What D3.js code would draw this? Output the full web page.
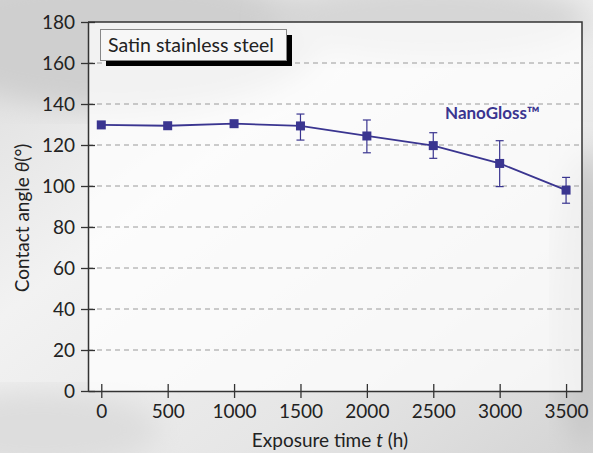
<!DOCTYPE html>
<html>
<head>
<meta charset="utf-8">
<script src="https://cdn.jsdelivr.net/npm/d3@7"></script>
<style>
  body { margin: 0; }
  svg text { font-family: Lato, "Open Sans", sans-serif; fill: #222; }
</style>
</head>
<body>
<div class="main"></div>
<script>
// data
var hours = [0, 500, 1000, 1500, 2000, 2500, 3000, 3500];
var angle = [129.8, 129.4, 130.4, 129.3, 124.4, 119.7, 111.0, 98.0];
var errLow = [129.8, 129.4, 130.4, 122.4, 116.2, 113.5, 99.7, 91.6];
var errHigh = [129.8, 129.4, 130.4, 135.1, 132.2, 126.0, 122.1, 104.2];
var xTicks = [0, 500, 1000, 1500, 2000, 2500, 3000, 3500];
var yTicks = [0, 20, 40, 60, 80, 100, 120, 140, 160, 180];
var seriesName = "NanoGloss\u2122";
var boxLabel = "Satin stainless steel";

//Canvas config
var W = 593, H = 453;
var margin = {top: 22, right: 11, bottom: 62, left: 88};
var width = W - margin.left - margin.right;
var height = H - margin.top - margin.bottom;
var navy = "#3a3590";

var svg = d3.select(".main").append("svg")
  .attr("width", W)
  .attr("height", H);

// background, a rough stand-in for the photo behind the chart
var defs = svg.append("defs");
var bg = defs.append("linearGradient").attr("id", "bg")
  .attr("x1", 0).attr("y1", 0).attr("x2", 1).attr("y2", 1);
bg.append("stop").attr("offset", "0%").attr("stop-color", "#dcdcdc");
bg.append("stop").attr("offset", "35%").attr("stop-color", "#f2f2f2");
bg.append("stop").attr("offset", "70%").attr("stop-color", "#e6e6e6");
bg.append("stop").attr("offset", "100%").attr("stop-color", "#d4d4d4");
var blur = defs.append("filter").attr("id", "soft");
blur.append("feGaussianBlur").attr("stdDeviation", 14);

svg.append("rect").attr("width", W).attr("height", H).attr("fill", "url(#bg)");
svg.append("ellipse").attr("cx", 120).attr("cy", 40).attr("rx", 200).attr("ry", 70)
  .attr("fill", "#cfcfcf").attr("filter", "url(#soft)");
svg.append("ellipse").attr("cx", 430).attr("cy", 20).attr("rx", 160).attr("ry", 40)
  .attr("fill", "#d6d6d6").attr("filter", "url(#soft)");
svg.append("ellipse").attr("cx", 585).attr("cy", 300).attr("rx", 30).attr("ry", 150)
  .attr("fill", "#c8c8c8").attr("filter", "url(#soft)");
svg.append("ellipse").attr("cx", 40).attr("cy", 430).attr("rx", 120).attr("ry", 40)
  .attr("fill", "#dddddd").attr("filter", "url(#soft)");

var g = svg.append("g")
  .attr("transform", "translate(" + margin.left + "," + margin.top + ")");

g.append("rect").attr("width", width).attr("height", height)
  .attr("fill", "#ffffff").attr("opacity", 0.72);

var xScale = d3.scaleLinear().domain([-100, 3620]).range([0, width]);
var yScale = d3.scaleLinear().domain([0, 180]).range([height, 0]);

// gridlines
g.append("g").attr("class", "grid")
  .selectAll("line")
  .data(yTicks.filter(function(d) { return d > 0 && d < 180; }))
  .enter().append("line")
  .attr("x1", 0).attr("x2", width)
  .attr("y1", function(d) { return yScale(d); })
  .attr("y2", function(d) { return yScale(d); })
  .style("stroke", "#9a9a9a")
  .style("stroke-width", 1)
  .style("stroke-dasharray", "5,4");

// frame (top and right)
g.append("path")
  .attr("d", "M0,0H" + width + "V" + height)
  .attr("fill", "none")
  .style("stroke", "#333")
  .style("stroke-width", 1.5);

// axes
var xAxis = d3.axisBottom(xScale).tickValues(xTicks).tickFormat(d3.format("d"))
  .tickSizeInner(7).tickSizeOuter(0).tickPadding(7);
var yAxis = d3.axisLeft(yScale).tickValues(yTicks).tickFormat(d3.format("d"))
  .tickSizeInner(7).tickSizeOuter(0).tickPadding(6);

var gx = g.append("g").attr("class", "x-axis")
  .attr("transform", "translate(0," + height + ")")
  .call(xAxis);
gx.selectAll(".tick line").attr("y1", -7);

var gy = g.append("g").attr("class", "y-axis").call(yAxis);
gy.selectAll(".tick line").attr("x1", 7);

g.selectAll(".domain").style("stroke", "#333").style("stroke-width", 1.5);
g.selectAll(".tick line").style("stroke", "#333").style("stroke-width", 1.3);
g.selectAll(".tick text").style("font-size", "19px").style("fill", "#222")
  .style("font-family", "Lato, 'Open Sans', sans-serif");
gx.selectAll(".tick text").attr("dy", "0.71em");

// axis labels
svg.append("text")
  .attr("x", 330).attr("y", 447)
  .attr("text-anchor", "middle")
  .style("font-size", "19px")
  .html("Exposure time <tspan font-style='italic'>t</tspan> (h)");

svg.append("text")
  .attr("transform", "translate(29,218) rotate(-90)")
  .attr("text-anchor", "middle")
  .style("font-size", "19px")
  .html("Contact angle <tspan font-style='italic'>\u03b8</tspan>(\u00b0)");

// data
var points = hours.map(function(h, i) {
  return {x: h, y: angle[i], lo: errLow[i], hi: errHigh[i]};
});

var bars = g.append("g").attr("class", "errors")
  .selectAll("g")
  .data(points.filter(function(d) { return d.hi - d.lo > 0.5; }))
  .enter().append("g")
  .style("stroke", navy)
  .style("stroke-width", 1.2);
bars.append("line")
  .attr("x1", function(d) { return xScale(d.x); })
  .attr("x2", function(d) { return xScale(d.x); })
  .attr("y1", function(d) { return yScale(d.lo); })
  .attr("y2", function(d) { return yScale(d.hi); });
bars.append("line")
  .attr("x1", function(d) { return xScale(d.x) - 4; })
  .attr("x2", function(d) { return xScale(d.x) + 4; })
  .attr("y1", function(d) { return yScale(d.lo); })
  .attr("y2", function(d) { return yScale(d.lo); });
bars.append("line")
  .attr("x1", function(d) { return xScale(d.x) - 4; })
  .attr("x2", function(d) { return xScale(d.x) + 4; })
  .attr("y1", function(d) { return yScale(d.hi); })
  .attr("y2", function(d) { return yScale(d.hi); });

var line = d3.line()
  .x(function(d) { return xScale(d.x); })
  .y(function(d) { return yScale(d.y); });

g.append("path")
  .datum(points)
  .attr("d", line)
  .attr("fill", "none")
  .style("stroke", navy)
  .style("stroke-width", 1.8);

g.append("g").attr("class", "nodes")
  .selectAll("rect")
  .data(points)
  .enter().append("rect")
  .attr("x", function(d) { return xScale(d.x) - 4.5; })
  .attr("y", function(d) { return yScale(d.y) - 4.5; })
  .attr("width", 9).attr("height", 9)
  .style("fill", navy);

// series label
g.append("text")
  .attr("x", 445 - margin.left).attr("y", 119 - margin.top)
  .style("font-size", "17px")
  .style("font-weight", "bold")
  .style("fill", navy)
  .text(seriesName);

// label box with shadow
var box = svg.append("g").attr("class", "label-box");
box.append("rect")
  .attr("x", 106).attr("y", 35).attr("width", 186).attr("height", 31)
  .attr("fill", "#000");
box.append("rect")
  .attr("x", 100.5).attr("y", 29.5).attr("width", 186).attr("height", 31)
  .attr("fill", "#f7f7f7")
  .style("stroke", "#888").style("stroke-width", 1);
box.append("text")
  .attr("x", 108).attr("y", 52)
  .style("font-size", "19.5px")
  .text(boxLabel);
</script>
</body>
</html>
